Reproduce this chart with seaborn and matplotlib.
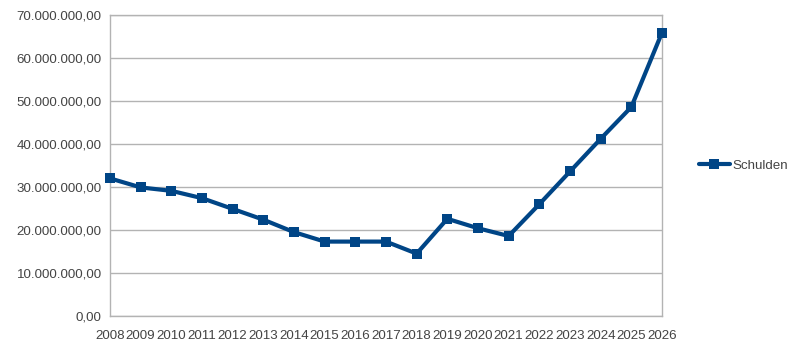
import matplotlib
matplotlib.use("Agg")
import matplotlib.pyplot as plt
import matplotlib.ticker as mticker
import seaborn as sns
import pandas as pd

years = list(range(2008, 2027))
schulden = [32.0, 29.9, 29.1, 27.4, 24.9, 22.4, 19.5, 17.3, 17.3, 17.3,
            14.5, 22.6, 20.4, 18.6, 26.0, 33.6, 41.2, 48.6, 65.9]
schulden = [v * 1_000_000 for v in schulden]
series_name = "Schulden"

df = pd.DataFrame({"Jahr": years, "Wert": schulden, "Reihe": series_name})

sns.set_style("white")
plt.rcParams["font.family"] = ["Liberation Sans", "DejaVu Sans"]

fig = plt.figure(figsize=(8.0, 3.49), dpi=100)
ax = fig.add_axes([0.1375, 0.0946, 0.69, 0.8625])

line_color = "#004586"
grid_color = "#b3b3b3"
text_color = "#444444"
fsize = 9.6

sns.lineplot(data=df, x="Jahr", y="Wert", hue="Reihe", palette=[line_color],
             marker="s", markersize=7.5, markeredgewidth=0, linewidth=3,
             ax=ax, legend=True, clip_on=False, zorder=5)

ax.set_xlim(2008, 2026)
ax.set_ylim(0, 70_000_000)
ax.set_xticks(years)
ax.set_xticklabels([str(y) for y in years])
ax.set_yticks(range(0, 70_000_001, 10_000_000))


def de_format(v, pos):
    s = f"{v:,.2f}"
    return s.replace(",", "X").replace(".", ",").replace("X", ".")


ax.yaxis.set_major_formatter(mticker.FuncFormatter(de_format))
ax.grid(axis="y", color=grid_color, linewidth=1)
ax.set_axisbelow(True)
for sp in ax.spines.values():
    sp.set_color(grid_color)
    sp.set_linewidth(1)
ax.tick_params(axis="both", which="major", length=4, width=1, color=grid_color,
               labelsize=fsize, labelcolor=text_color, direction="out", pad=2)
ax.tick_params(axis="x", pad=6)
ax.set_xlabel("")
ax.set_ylabel("")

handles, labels = ax.get_legend_handles_labels()
ax.legend(handles, labels, loc="center left", bbox_to_anchor=(1.045, 0.5),
          frameon=False, fontsize=fsize, labelcolor=text_color,
          handlelength=2.3, handletextpad=0.25)

fig.savefig("out.png", dpi=100)
